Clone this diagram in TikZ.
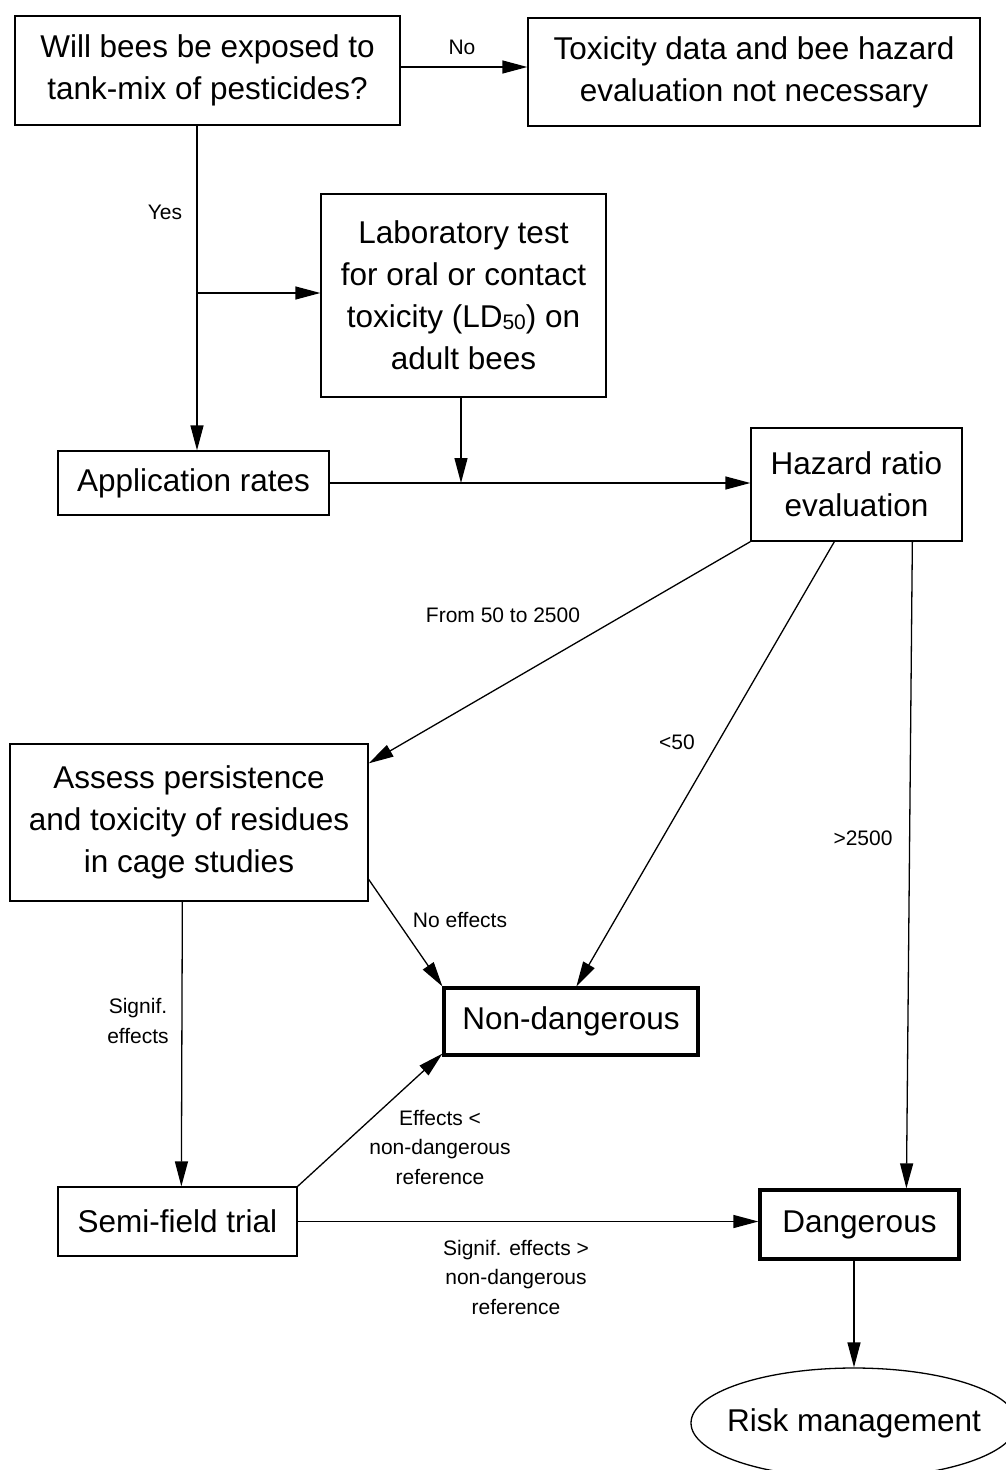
\documentclass[tikz,border=0pt]{standalone}
\usepackage{fontspec}
\setmainfont{Liberation Sans}
\usetikzlibrary{arrows.meta,shapes.geometric,calc}
\newcommand\bigtxt{\fontsize{31.5}{42}\selectfont}
\newcommand\lbltxt{\fontsize{21}{29.5}\selectfont}
\begin{document}
\begin{tikzpicture}[x=1pt,y=-1pt,
  box/.style={draw, line width=1.3pt, inner sep=0pt, align=center, font=\bigtxt},
  thickbox/.style={box, line width=3.2pt},
  lbl/.style={inner sep=0pt, align=center, font=\lbltxt},
  arr/.style={draw, line width=1.3pt, -{Triangle[length=25pt,width=13pt]}}]
\useasboundingbox (0,0) rectangle (1006,1470);
\clip (0,0) rectangle (1006,1470);
\fill[white] (0,0) rectangle (1006,1470);

\node[box, minimum width=385pt, minimum height=109pt] (q) at (207.5,70.5) {Will bees be exposed to\\tank-mix of pesticides?};
\node[box, minimum width=452pt, minimum height=108pt] (nt) at (754,72) {Toxicity data and bee hazard\\evaluation not necessary};
\node[box, minimum width=285pt, minimum height=203pt] (lab) at (463.5,295.5) {Laboratory test\\for oral or contact\\toxicity (LD\raisebox{-1.5pt}{\fontsize{21}{21}\selectfont 50}) on\\adult bees};
\node[box, minimum width=271pt, minimum height=64pt] (app) at (193.5,483) {Application rates};
\node[box, minimum width=211pt, minimum height=113pt] (haz) at (856.5,484.5) {Hazard ratio\\evaluation};
\node[box, minimum width=358pt, minimum height=157pt] (assess) at (189,822.5) {Assess persistence\\and toxicity of residues\\in cage studies};
\node[thickbox, minimum width=254pt, minimum height=67pt] (nond) at (571,1021.5) {Non-dangerous};
\node[box, minimum width=239pt, minimum height=69pt] (semi) at (177.5,1221.5) {Semi-field trial};
\node[thickbox, minimum width=199pt, minimum height=69pt] (dang) at (859.5,1224.5) {Dangerous};
\node[draw, line width=1.3pt, ellipse, inner sep=0pt, minimum width=326pt, minimum height=110pt] (rm) at (854,1423) {};
\node[inner sep=0pt, font=\bigtxt] (rmt) at (rm.center) {Risk management};

\coordinate (nocoord) at (0,67);
\draw[arr] (q.east |- nocoord) -- (nt.west |- nocoord);
\node[lbl] (lno) at (462,47) {No};

\coordinate (yb) at (197,293);
\draw[line width=1.3pt] (q.south -| yb) -- (yb);
\draw[arr] (yb) -- (app.north -| yb);
\draw[arr] (yb) -- (lab.west |- yb);
\node[lbl] (lyes) at (165,212) {Yes};

\coordinate (j) at (461,483);
\draw[arr] (lab.south -| j) -- (j);
\draw[arr] (app.east) -- (haz.west |- app.east);

\draw[arr] (haz.south west) -- ($(assess.north east)+(0,20)$);
\node[lbl] (l1) at (503,615) {From 50 to 2500};
\draw[arr] ($(haz.south west)+(84,0)$) -- ($(nond.north west)+(134,0)$);
\node[lbl] (l2) at (677,742) {<50};
\draw[arr] ($(haz.south west)+(162,0)$) -- ($(dang.north west)+(148,0)$);
\node[lbl] (l3) at (863,838) {>2500};

\draw[arr] ($(assess.north east)+(0,136)$) -- (nond.north west);
\node[lbl] (l4) at (460,920) {No effects};
\draw[arr] ($(assess.south west)+(173,0)$) -- ($(semi.north west)+(124,0)$);
\node[lbl] (l5) at (138,1021) {Signif.\\effects};

\draw[arr] (semi.north east) -- ($(nond.south west)+(0,-3)$);
\node[lbl] (l6) at (440,1147) {Effects <\\non-dangerous\\reference};
\draw[arr] (semi.east) -- (dang.west |- semi.east);
\node[lbl] (l7) at (516,1277) {Signif. effects >\\non-dangerous\\reference};

\draw[arr] (dang.south -| rm.north) -- (rm.north);
\end{tikzpicture}
\end{document}
